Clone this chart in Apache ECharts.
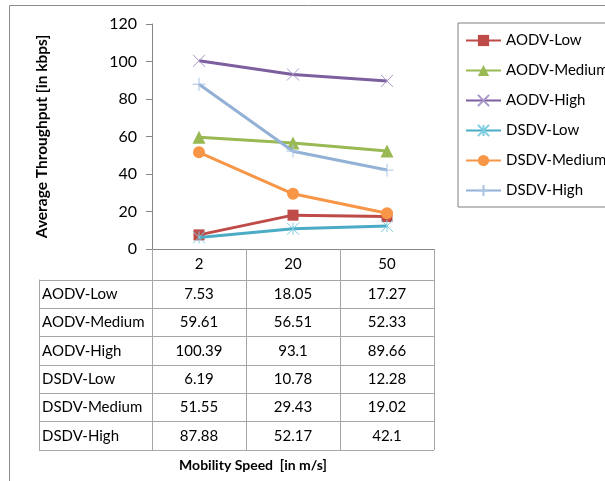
<!DOCTYPE html>
<html>
<head>
<meta charset="utf-8">
<script src="https://cdn.jsdelivr.net/npm/echarts@6/dist/echarts.min.js"></script>
<style>
html,body{margin:0;padding:0;background:#fff;}
#chart{width:605px;height:481px;}
</style>
</head>
<body>
<div id="chart"></div>
<script>
// ---- data ----
const categories = ['2', '20', '50'];
const seriesNames = ['AODV-Low', 'AODV-Medium', 'AODV-High', 'DSDV-Low', 'DSDV-Medium', 'DSDV-High'];
const aodvLow = [7.53, 18.05, 17.27];
const aodvMedium = [59.61, 56.51, 52.33];
const aodvHigh = [100.39, 93.1, 89.66];
const dsdvLow = [6.19, 10.78, 12.28];
const dsdvMedium = [51.55, 29.43, 19.02];
const dsdvHigh = [87.88, 52.17, 42.1];
const yTicks = [0, 20, 40, 60, 80, 100, 120];

const seriesValues = [aodvLow, aodvMedium, aodvHigh, dsdvLow, dsdvMedium, dsdvHigh];

// ---- styles ----
const FONT = 'Lato';
const FS = 15;
const colors = ['#BE4B48', '#98B954', '#7D5FA0', '#4BACC6', '#F79646', '#93B1D6'];
const markerColors = ['#BE4B48', '#98B954', '#A896C8', '#7FCDE0', '#F79646', '#A9C3E3'];
const symbols = [
  'rect',
  'triangle',
  'path://M0,0L10,10M10,0L0,10',
  'path://M0,0L10,10M10,0L0,10M5,0L5,10',
  'circle',
  'path://M5,0L5,10M0,5L10,5'
];
const symbolSizes = [11, 13, 12, 12, 12, 13];
const gridLine = '#A6A6A6';
const axisColor = '#868686';

const chart = echarts.init(document.getElementById('chart'), null, {renderer: 'canvas'});

const lineSeries = seriesNames.map((name, i) => {
  const isPath = symbols[i].indexOf('path://') === 0;
  return {
    name: name,
    type: 'line',
    xAxisIndex: 0,
    yAxisIndex: 0,
    data: seriesValues[i],
    symbol: symbols[i],
    symbolSize: symbolSizes[i],
    showAllSymbol: true,
    lineStyle: {color: colors[i], width: 3},
    itemStyle: isPath
      ? {color: markerColors[i], borderColor: markerColors[i], borderWidth: 1}
      : {color: colors[i], borderWidth: 0},
    emphasis: {disabled: true},
    animation: false,
    z: 3 + i
  };
});

const tableData = [];
seriesValues.forEach((vals, r) => {
  vals.forEach((v, c) => tableData.push([c, r, v]));
});

const tableSeries = {
  type: 'custom',
  xAxisIndex: 1,
  yAxisIndex: 1,
  data: tableData,
  silent: true,
  animation: false,
  renderItem: function (params, api) {
    const p = api.coord([api.value(0), api.value(1)]);
    return {
      type: 'text',
      x: p[0],
      y: p[1],
      style: {
        text: String(api.value(2)),
        textAlign: 'center',
        textVerticalAlign: 'middle',
        fill: '#000',
        font: FS + 'px ' + FONT
      }
    };
  }
};

const option = {
  backgroundColor: '#fff',
  animation: false,
  textStyle: {fontFamily: FONT},
  graphic: [
    {
      type: 'rect',
      shape: {x: 9.5, y: 5.5, width: 800, height: 600},
      style: {fill: 'none', stroke: '#8C8C8C', lineWidth: 1},
      silent: true,
      z: 0
    },
    {
      type: 'text',
      x: 253,
      y: 465,
      style: {
        text: 'Mobility Speed  [in m/s]',
        font: 'bold 14px ' + FONT,
        fill: '#000',
        textAlign: 'center',
        textVerticalAlign: 'middle'
      },
      silent: true
    }
  ],
  legend: {
    orient: 'vertical',
    left: 458,
    top: 23,
    data: seriesNames,
    itemWidth: 35,
    itemHeight: 14,
    itemGap: 15,
    padding: [10, 40, 9, 7],
    borderColor: '#7F7F7F',
    borderWidth: 1,
    textStyle: {fontFamily: FONT, fontSize: FS, color: '#000'},
    selectedMode: false
  },
  grid: [
    {left: 152, top: 24, width: 282, height: 225},
    {left: 152, top: 280, width: 282, height: 170}
  ],
  xAxis: [
    {
      gridIndex: 0,
      type: 'category',
      data: categories,
      boundaryGap: true,
      axisLine: {show: true, lineStyle: {color: axisColor, width: 1}},
      axisTick: {show: true, length: 201, lineStyle: {color: gridLine}},
      axisLabel: {margin: 8, fontSize: FS, color: '#000', fontFamily: FONT},
      splitLine: {show: false}
    },
    {
      gridIndex: 1,
      type: 'category',
      data: categories,
      boundaryGap: true,
      axisLine: {show: false},
      axisTick: {show: false},
      axisLabel: {show: false},
      splitLine: {show: false}
    }
  ],
  yAxis: [
    {
      gridIndex: 0,
      type: 'value',
      min: yTicks[0],
      max: yTicks[yTicks.length - 1],
      interval: yTicks[1] - yTicks[0],
      axisLine: {show: true, lineStyle: {color: axisColor}},
      axisTick: {show: true, length: 6, lineStyle: {color: axisColor}},
      axisLabel: {margin: 15, fontSize: 16, color: '#000', fontFamily: FONT},
      splitLine: {show: false},
      name: 'Average Throughput [in kbps]',
      nameLocation: 'middle',
      nameGap: 102,
      nameTextStyle: {fontWeight: 'bold', fontSize: 15.5, color: '#000', fontFamily: FONT}
    },
    {
      gridIndex: 1,
      type: 'category',
      data: seriesNames,
      inverse: true,
      boundaryGap: true,
      axisLine: {show: true, lineStyle: {color: gridLine}},
      axisTick: {show: true, length: 113, lineStyle: {color: gridLine}},
      axisLabel: {align: 'left', margin: 110, fontSize: FS, color: '#000', fontFamily: FONT},
      splitLine: {show: true, lineStyle: {color: gridLine}}
    },
    {
      gridIndex: 1,
      type: 'category',
      data: seriesNames,
      inverse: true,
      position: 'left',
      offset: 113,
      axisLine: {show: true, lineStyle: {color: gridLine}},
      axisTick: {show: false},
      axisLabel: {show: false},
      splitLine: {show: false}
    }
  ],
  series: lineSeries.concat([tableSeries])
};

chart.setOption(option);
</script>
</body>
</html>
